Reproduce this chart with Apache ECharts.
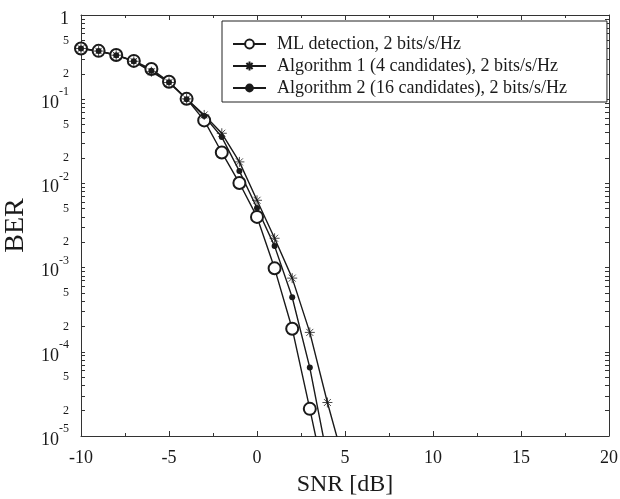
<!DOCTYPE html>
<html><head><meta charset="utf-8">
<script src="https://cdn.jsdelivr.net/npm/echarts@6/dist/echarts.min.js"></script>
<style>html,body{margin:0;padding:0;background:#fff}#c{width:620px;height:499px}</style>
</head><body><div id="c"></div>
<script>
const snr = [-10,-9,-8,-7,-6,-5,-4,-3,-2,-1,0,1,2,3,4,5];
const berML   = [0.40,0.375,0.335,0.285,0.228,0.161,0.101,0.056,0.0233,0.0101,0.0040,9.8e-4,1.88e-4,2.1e-5,2.2e-6];
const berAlg1 = [0.40,0.373,0.333,0.282,0.212,0.158,0.101,0.065,0.0394,0.0180,0.0063,2.23e-3,7.5e-4,1.7e-4,2.5e-5,4.4e-6];
const berAlg2 = [0.40,0.373,0.333,0.283,0.218,0.159,0.100,0.063,0.0355,0.0140,0.0051,1.8e-3,4.45e-4,6.5e-5,5.5e-6];
const seriesNames = ['ML detection, 2 bits/s/Hz','Algorithm 1 (4 candidates), 2 bits/s/Hz','Algorithm 2 (16 candidates), 2 bits/s/Hz'];
const yLabelValues = [1,0.5,0.2,0.1,0.05,0.02,0.01,0.005,0.002,0.001,5e-4,2e-4,1e-4,5e-5,2e-5,1e-5];
const decades = [-5,-4,-3,-2,-1,0];
const xTicks = [-10,-5,0,5,10,15,20];

const yTickValues = [];
decades.forEach(d => { for (let m = 1; m <= 9; m++) { const v = m * Math.pow(10, d); if (v <= 1.0000001) yTickValues.push(v); } });

const FONT = 'Liberation Serif';
const INK = '#1a1a1a';
function pairs(arr){ return arr.map((v,i)=>[snr[i], v]); }
function yFmt(v){
  const e = Math.floor(Math.log10(v) + 1e-9);
  const m = Math.round(v / Math.pow(10, e));
  if (m === 1) {
    if (e === 0) return '{b|1}';
    return '{b|10}{s|' + e + '}';
  }
  return '{m|' + m + '}';
}
const star = 'path://M0,-10L0,10M-10,0L10,0M-7,-7L7,7M-7,7L7,-7';
const lineW = 1.4;
const chart = echarts.init(document.getElementById('c'), null, {renderer:'canvas'});
const yBase = {
  type:'log', min:1e-5, max:1, logBase:10,
  axisLine:{show:true, onZero:false, lineStyle:{color:'#333', width:1}},
  splitLine:{show:false},
  axisTick:{show:true, inside:true, length:4, customValues: yTickValues, lineStyle:{color:'#333'}},
  minorTick:{show:false}
};
const xBase = {
  type:'value', min:-10, max:20, interval:5,
  axisLine:{show:true, onZero:false, lineStyle:{color:'#333', width:1}},
  splitLine:{show:false},
  axisTick:{show:true, inside:true, length:5, lineStyle:{color:'#333'}},
  minorTick:{show:true, splitNumber:2, length:3, lineStyle:{color:'#333'}}
};
chart.setOption({
  animation:false,
  backgroundColor:'#fff',
  grid:{left:81, right:11, top:15, bottom:63, containLabel:false, outerBoundsMode:'none'},
  xAxis:[
    Object.assign({}, xBase, {position:'bottom',
      name:'SNR [dB]', nameLocation:'middle', nameGap:37,
      nameTextStyle:{fontFamily:FONT, fontSize:24, color:INK},
      axisLabel:{show:true, margin:13, fontFamily:FONT, fontSize:18, color:INK,
        customValues: xTicks, formatter: v => String(v)}}),
    Object.assign({}, xBase, {position:'top', axisLabel:{show:false}})
  ],
  yAxis:[
    Object.assign({}, yBase, {position:'left',
      name:'BER', nameLocation:'middle', nameGap:38,
      nameTextStyle:{fontFamily:FONT, fontSize:28, color:INK},
      axisLabel:{show:true, margin:12, customValues: yLabelValues, formatter: yFmt,
        rich:{
          b:{fontFamily:FONT, fontSize:18, color:INK, lineHeight:26, verticalAlign:'bottom'},
          s:{fontFamily:FONT, fontSize:12, color:INK, lineHeight:26, verticalAlign:'top'},
          m:{fontFamily:FONT, fontSize:12, color:INK}
        }}}),
    Object.assign({}, yBase, {position:'right', axisLabel:{show:false}})
  ],
  legend:{
    orient:'vertical', left:222, top:21,
    data: seriesNames,
    backgroundColor:'#fff', borderColor:'#222', borderWidth:1,
    padding:[14, 40, 5, 10], itemGap:4, itemWidth:33, itemHeight:11,
    textStyle:{fontFamily:FONT, fontSize:18, color:INK, padding:[0,0,0,6]}
  },
  series:[
    {name:seriesNames[0], type:'line', data:pairs(berML), clip:true,
      symbol:'emptyCircle', symbolSize:12, showAllSymbol:true,
      lineStyle:{color:INK, width:lineW}, itemStyle:{color:INK, borderColor:INK, borderWidth:1}},
    {name:seriesNames[1], type:'line', data:pairs(berAlg1), clip:true,
      symbol:star, symbolSize:10, showAllSymbol:true,
      lineStyle:{color:INK, width:lineW}, itemStyle:{color:INK, borderColor:INK, borderWidth:0.8}},
    {name:seriesNames[2], type:'line', data:pairs(berAlg2), clip:true,
      symbol:'circle', symbolSize:6, showAllSymbol:true,
      lineStyle:{color:INK, width:lineW}, itemStyle:{color:INK, borderColor:INK, borderWidth:0}}
  ]
});
</script></body></html>
